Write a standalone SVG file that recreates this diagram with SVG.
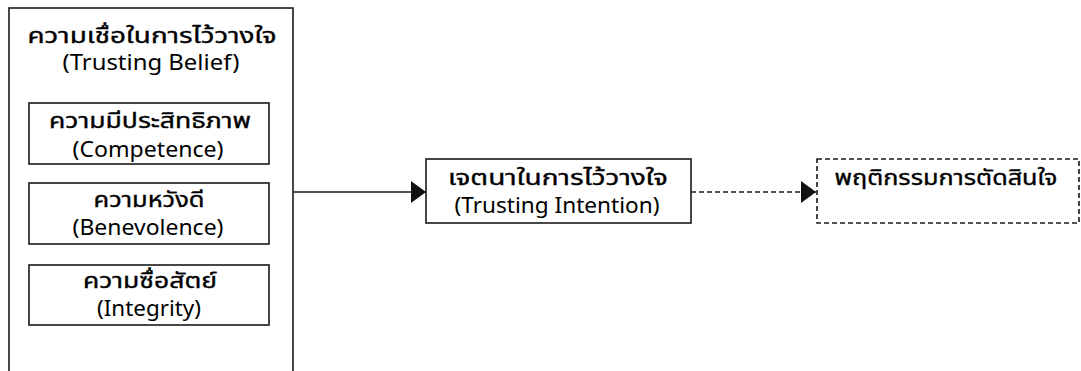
<svg xmlns="http://www.w3.org/2000/svg" width="1081" height="371" viewBox="0 0 1081 371">
  <style>
    .box { fill: #ffffff; stroke: #1a1a1a; stroke-width: 1.6; }
    .dash { fill: #ffffff; stroke: #1a1a1a; stroke-width: 1.6; stroke-dasharray: 5 3; }
    .txt { font-family: "Noto Sans Thai", "Tahoma", "Noto Sans", "DejaVu Sans", sans-serif; fill: #000000; text-anchor: middle; font-weight: 400; }
    .th { font-size: 20.5px; stroke: #000000; stroke-width: 0.35; }
    .en { font-size: 22px; }
    .edge { fill: none; stroke: #1a1a1a; stroke-width: 1.6; }
    .edge.dashed { stroke-dasharray: 5 3; }
  </style>
  <defs>
    <marker id="arrow" markerWidth="15" markerHeight="22" refX="15" refY="11" orient="auto" markerUnits="userSpaceOnUse">
      <path d="M0,0 L15,11 L0,22 Z" fill="#111111"/>
    </marker>
  </defs>
  <rect width="1081" height="371" fill="#ffffff"/>

  <g id="trusting-belief">
    <rect class="box" x="9" y="8" width="284" height="380"/>
    <text class="txt th" x="152" y="43" textLength="249" lengthAdjust="spacingAndGlyphs">ความเชื่อในการไว้วางใจ</text>
    <text class="txt en" x="151" y="70" textLength="177" lengthAdjust="spacingAndGlyphs">(Trusting Belief)</text>
  </g>

  <g id="competence">
    <rect class="box" x="29" y="103" width="240" height="61"/>
    <text class="txt th" x="150" y="128" textLength="202" lengthAdjust="spacingAndGlyphs">ความมีประสิทธิภาพ</text>
    <text class="txt en" x="148" y="157" textLength="151" lengthAdjust="spacingAndGlyphs">(Competence)</text>
  </g>

  <g id="benevolence">
    <rect class="box" x="29" y="183" width="240" height="61"/>
    <text class="txt th" x="149" y="207" textLength="111" lengthAdjust="spacingAndGlyphs">ความหวังดี</text>
    <text class="txt en" x="148" y="235" textLength="151" lengthAdjust="spacingAndGlyphs">(Benevolence)</text>
  </g>

  <g id="integrity">
    <rect class="box" x="29" y="265" width="240" height="60"/>
    <text class="txt th" x="150" y="288" textLength="134" lengthAdjust="spacingAndGlyphs">ความซื่อสัตย์</text>
    <text class="txt en" x="149" y="316" textLength="104" lengthAdjust="spacingAndGlyphs">(Integrity)</text>
  </g>

  <g id="trusting-intention">
    <rect class="box" x="426" y="159" width="265" height="64"/>
    <text class="txt th" x="558" y="185" textLength="220" lengthAdjust="spacingAndGlyphs">เจตนาในการไว้วางใจ</text>
    <text class="txt en" x="557" y="213" textLength="205" lengthAdjust="spacingAndGlyphs">(Trusting Intention)</text>
  </g>

  <g id="decision-behavior">
    <rect class="dash" x="817" y="159" width="262" height="64"/>
    <text class="txt th" x="946" y="185" textLength="223" lengthAdjust="spacingAndGlyphs">พฤติกรรมการตัดสินใจ</text>
  </g>

  <g id="connectors">
    <path class="edge" d="M293,192 L426,192" marker-end="url(#arrow)"/>
    <path class="edge dashed" d="M691,192 L816,192" marker-end="url(#arrow)"/>
  </g>
</svg>
